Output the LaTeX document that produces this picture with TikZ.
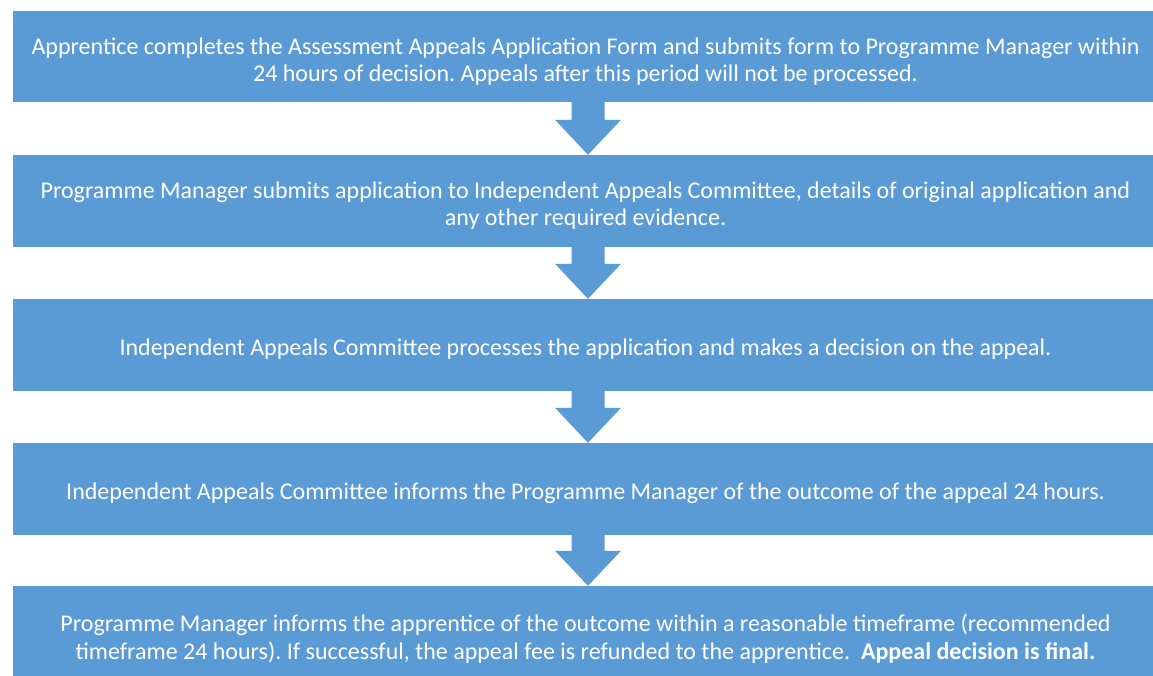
\documentclass[tikz,border=0pt]{standalone}
\usepackage{fontspec}
\setmainfont{Carlito}
\frenchspacing
\usetikzlibrary{calc}
\definecolor{boxblue}{HTML}{5B9BD5}
\tikzset{
  stepbox/.style={rectangle, fill=boxblue, draw=none, minimum width=1150pt, minimum height=92pt, inner sep=0pt},
  steptext/.style={text=white, align=center, font=\fontsize{24pt}{27.5pt}\selectfont\frenchspacing, inner sep=0pt},
  flowarrow/.style={fill=boxblue}
}
\newcommand\flowarrowdraw[2]{%
  \fill[flowarrow] ($(#1.south)+(-16.5,0)$) -- ($(#1.south)+(16.5,0)$) --
    ($(#2.north)+(16.5,-35)$) -- ($(#2.north)+(33,-35)$) -- (#2.north) --
    ($(#2.north)+(-33,-35)$) -- ($(#2.north)+(-16.5,-35)$) -- cycle;}
\begin{document}
\begin{tikzpicture}[x=1pt,y=-1pt]
\useasboundingbox (0,0) rectangle (1153,675);
\clip (0,0) rectangle (1153,675);
\node[stepbox, minimum height=91pt] (b1) at (588,56.5) {};
\node[stepbox] (b2) at (588,201) {};
\node[stepbox] (b3) at (588,345) {};
\node[stepbox] (b4) at (588,489) {};
\node[stepbox] (b5) at (588,632) {};
\node[steptext] (t1) at ($(b1.center)+(-2.5,5)$) {Apprentice completes the Assessment Appeals Application Form and submits form to Programme Manager within\\24 hours of decision. Appeals after this period will not be processed.};
\node[steptext] (t2) at ($(b2.center)+(-2.5,4.5)$) {Programme Manager submits application to Independent Appeals Committee, details of original application and\\any other required evidence.};
\node[steptext] (t3) at ($(b3.center)+(-2.5,4.5)$) {Independent Appeals Committee processes the application and makes a decision on the appeal.};
\node[steptext] (t4) at ($(b4.center)+(-2.5,4.5)$) {Independent Appeals Committee informs the Programme Manager of the outcome of the appeal 24 hours.};
\node[steptext] (t5) at ($(b5.center)+(-2.5,6.5)$) {Programme Manager informs the apprentice of the outcome within a reasonable timeframe (recommended\\timeframe 24 hours). If successful, the appeal fee is refunded to the apprentice.\ \ \textbf{Appeal decision is final.}};
\flowarrowdraw{b1}{b2}
\flowarrowdraw{b2}{b3}
\flowarrowdraw{b3}{b4}
\flowarrowdraw{b4}{b5}
\end{tikzpicture}
\end{document}
